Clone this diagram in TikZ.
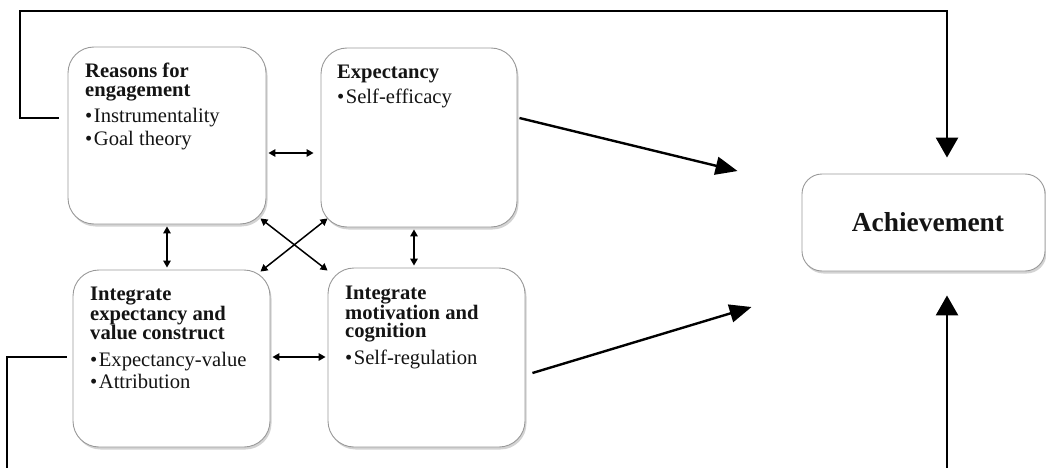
\documentclass[tikz,border=0pt]{standalone}
\usepackage{fontspec}
\setmainfont{Liberation Serif}
\usetikzlibrary{arrows.meta,calc,shadows}
\newcommand{\bul}{\textbullet\hspace{1.5pt}}
\begin{document}
\begin{tikzpicture}[x=1pt,y=-1pt,
  box/.style={draw=black!40, line width=0.9pt, fill=white, rounded corners=26pt, inner sep=0pt,
    drop shadow={opacity=0.35, shadow xshift=1.5pt, shadow yshift=-2.5pt}},
  ln/.style={anchor=base west, inner sep=0pt, font=\fontsize{20.6}{22}\selectfont, text=black!92},
  ttl/.style={anchor=north west, inner sep=0pt, align=left, font=\fontsize{20.6}{18.4}\selectfont\bfseries, text=black!92},
  fb/.style={line width=2.8pt, -{Triangle[length=20pt,width=22pt]}},
  big/.style={line width=2.4pt, -{Triangle[length=22pt,width=18pt]}},
  dbl/.style={line width=1.5pt, {Triangle[length=7pt,width=7.5pt]}-{Triangle[length=7pt,width=7.5pt]}}]
\clip (0,0) rectangle (1046,468);
% boxes
\node[box, minimum width=198pt, minimum height=177pt] (A) at (167,135.5) {};
\node[box, minimum width=196pt, minimum height=179pt] (B) at (419,137.5) {};
\node[box, minimum width=197pt, minimum height=177pt] (C) at (171.5,358.5) {};
\node[box, minimum width=197pt, minimum height=179pt] (D) at (426.5,357.5) {};
\node[box, rounded corners=20pt, minimum width=243pt, minimum height=97pt,
  font=\fontsize{27.4}{30}\selectfont\bfseries, text=black!92] (ach) at (923.5,222.5) {\hspace*{9pt}Achievement};
% texts
\node[ttl] (a1) at (85,63) {Reasons for\\engagement};
\node[ln] (a3) at (85,123) {\bul Instrumentality};
\node[ln] (a4) at (85,146) {\bul Goal theory};
\node[ttl] (b1) at (337,65) {Expectancy};
\node[ln] (b2) at (337,104) {\bul Self-efficacy};
\node[ttl] (c1) at (90,286.5) {Integrate\\expectancy and\\value construct};
\node[ln] (c4) at (90,366) {\bul Expectancy-value};
\node[ln] (c5) at (90,388) {\bul Attribution};
\node[ttl] (d1) at (345,286) {Integrate\\motivation and\\cognition};
\node[ln] (d4) at (345,364) {\bul Self-regulation};
% coordinates
\coordinate (aout) at ($(A.west)+(-9,-17.5)$);
\coordinate (cout) at ($(C.west)+(-6,-1.5)$);
\coordinate (achtop) at ($(ach.north)+(23.5,-16)$);
\coordinate (achbot) at ($(ach.south)+(23.5,24)$);
\coordinate (achin1) at ($(ach.west)+(-64,-51.5)$);
\coordinate (achin2) at ($(ach.west)+(-50,84.5)$);
% feedback lines
\draw[fb] (aout) -| (20,11) -| (achtop);
\draw[fb] (cout) -| (7,490) -| (achbot);
% arrows to achievement
\draw[big] ($(B.east)+(2,-19.5)$) -- (achin1);
\draw[big] ($(D.east)+(7,15.5)$) -- (achin2);
% double arrows
\draw[dbl] ($(A.east)+(2,17.5)$) -- ($(B.west)+(-7,15.5)$);
\draw[dbl] ($(C.east)+(2,-1.5)$) -- ($(D.west)+(-2,-0.5)$);
\draw[dbl] ($(A.south)+(0,2)$) -- ($(C.north)+(-4.5,-2)$);
\draw[dbl] ($(B.south)+(-5,2)$) -- ($(D.north)+(-12.5,-2)$);
\draw[dbl] ($(A.south east)+(-6,-6)$) -- ($(D.north west)+(0,3)$);
\draw[dbl] ($(B.south west)+(7,-9)$) -- ($(C.north east)+(-10,2)$);
\end{tikzpicture}
\end{document}
